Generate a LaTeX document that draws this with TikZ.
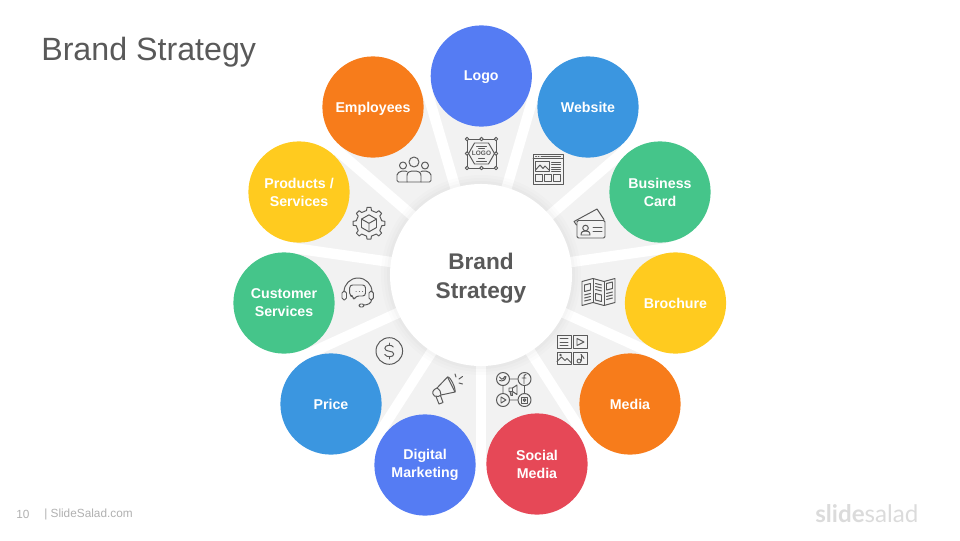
\documentclass[tikz,border=0pt]{standalone}
\usepackage{fontspec}
\setmainfont{Liberation Sans}
\newfontfamily\logofont{Lato}
\definecolor{bluea}{HTML}{557CF3}
\definecolor{blueb}{HTML}{3B96E0}
\definecolor{greena}{HTML}{45C58A}
\definecolor{yellowa}{HTML}{FFCB1F}
\definecolor{orangea}{HTML}{F77C1B}
\definecolor{reda}{HTML}{E64857}
\definecolor{wedgec}{HTML}{F2F2F2}
\definecolor{iconc}{HTML}{5A5A5A}
\definecolor{textc}{HTML}{595959}
\definecolor{footc}{HTML}{B0B0B0}
\tikzset{
  petal/.style={circle, minimum size=2.53cm, inner sep=0pt, text=white, align=center,
    font=\fontsize{10.1}{12.8}\selectfont\bfseries},
  ico/.style={draw=iconc, line width=0.7pt, line join=round, line cap=round},
}
\newcommand{\petal}[5]{
\node [petal, fill=#4] (#3) at (#1, #2) {#5};
}
\newcommand{\nodesc}[1]{\raisebox{0pt}[\height][0pt]{#1}}
\newcommand{\gapline}[1]{
\draw [white, line width=7.4pt] (hub) -- +(#1:208);
}
\newcommand{\handle}[2]{
\draw [ico, fill=white] (#1, #2) circle [radius=1.7];
}
\newcommand{\iconlogo}[2]{
\begin{scope}[shift={(#1, #2)}]
\draw [ico] (-14.5,-14.5) rectangle (14.5,14.5);
\draw [ico] (-13,0) -- (-7,-10.5) -- (7,-10.5) -- (13,0) -- (7,10.5) -- (-7,10.5) -- cycle;
\draw [ico] (-5,-7.5) -- (5,-7.5) (-3,-5) -- (3,-5) (-5,7.5) -- (5,7.5) (-3,5) -- (3,5);
\handle{-14.5}{-14.5} \handle{0}{-14.5} \handle{14.5}{-14.5} \handle{-14.5}{0}
\handle{14.5}{0} \handle{-14.5}{14.5} \handle{0}{14.5} \handle{14.5}{14.5}
\node [text=iconc, inner sep=0pt, font=\fontsize{4.6}{5}\selectfont\bfseries] (logotext) at (0,0) {LOGO};
\end{scope}
}
\newcommand{\iconpeople}[2]{
\begin{scope}[shift={(#1, #2)}]
\draw [ico] (0,-7) circle [radius=5];
\draw [ico] (-11,-3.5) circle [radius=3.5];
\draw [ico] (11,-3.5) circle [radius=3.5];
\draw [ico] (-7,13) -- (-7,6.5) .. controls (-7,3) and (-4,2) .. (0,2) .. controls (4,2) and (7,3) .. (7,6.5) -- (7,13) -- cycle;
\draw [ico] (-7,2.5) .. controls (-9,1.5) and (-16,1.5) .. (-17,6) -- (-17,11.5) .. controls (-17,12.5) and (-16.5,13) .. (-15.5,13) -- (-7,13);
\draw [ico] (7,2.5) .. controls (9,1.5) and (16,1.5) .. (17,6) -- (17,11.5) .. controls (17,12.5) and (16.5,13) .. (15.5,13) -- (7,13);
\end{scope}
}
\newcommand{\iconweb}[2]{
\begin{scope}[shift={(#1, #2)}]
\draw [ico] (-15,-15) rectangle (15,15);
\draw [ico] (-15,-10.5) -- (15,-10.5);
\draw [ico] (-12.5,-13) -- (-11.5,-13) (-10,-13) -- (-9,-13) (-7,-13) -- (12.5,-13);
\draw [ico] (-12.5,-7.5) rectangle (1,2.5);
\draw [ico] (-12.5,1) -- (-8,-4) -- (-5,-0.5) -- (-3,-3) -- (1,1);
\draw [ico] (3.5,-7) -- (12.5,-7) (3.5,-4.5) -- (12.5,-4.5) (3.5,-2) -- (12.5,-2) (3.5,0.5) -- (12.5,0.5) (3.5,2.5) -- (12.5,2.5);
\draw [ico] (-12.5,5.5) rectangle (-6,12.5);
\draw [ico] (-3.5,5.5) rectangle (3,12.5);
\draw [ico] (5.5,5.5) rectangle (12.5,12.5);
\end{scope}
}
\newcommand{\iconcard}[2]{
\begin{scope}[shift={(#1, #2)}]
\draw [ico] (-14.5,-5) -- (-17,-8.5) -- (6,-21) -- (13,-10.5);
\draw [ico, fill=wedgec, rounded corners=1pt] (-14,-9.5) rectangle (14,8);
\draw [ico] (-5.5,-2) circle [radius=2.8];
\draw [ico] (-10,5) .. controls (-10,1.5) and (-8,1) .. (-5.5,1) .. controls (-3,1) and (-1,1.5) .. (-1,5) -- cycle;
\draw [ico] (2,-2.5) -- (11,-2.5) (2,1.5) -- (11,1.5);
\end{scope}
}
\newcommand{\iconbrochure}[2]{
\begin{scope}[shift={(#1, #2)}]
\draw [ico] (-16.5,-10) -- (-5.5,-13) -- (5.5,-10) -- (16.5,-13) -- (16.5,11) -- (5.5,14) -- (-5.5,11) -- (-16.5,14) -- cycle;
\draw [ico] (-5.5,-13) -- (-5.5,11) (5.5,-10) -- (5.5,14);
\draw [ico] (-14,-6.5) -- (-8,-8) -- (-8,-1.5) -- (-14,0) -- cycle;
\draw [ico] (-14,3.5) -- (-8,2) (-14,6.5) -- (-8,5) (-14,9.5) -- (-8,8);
\draw [ico] (-3,-8) -- (3,-6.5) (-3,-5) -- (3,-3.5) (-3,-2) -- (3,-0.5);
\draw [ico] (-3,2) -- (3,3.5) -- (3,10) -- (-3,8.5) -- cycle;
\draw [ico] (8,-8) -- (14,-9.5) -- (14,-3) -- (8,-1.5) -- cycle;
\draw [ico] (8,2) -- (14,0.5) (8,5) -- (14,3.5) (8,8) -- (14,6.5);
\end{scope}
}
\newcommand{\iconmedia}[2]{
\begin{scope}[shift={(#1, #2)}]
\draw [ico] (-15,-15) rectangle (-1,-2);
\draw [ico] (1.5,-15) rectangle (15,-2);
\draw [ico] (-15,1.5) rectangle (-1,14);
\draw [ico] (1.5,1.5) rectangle (15,14);
\draw [ico] (-12,-12) -- (-4,-12) (-12,-8.5) -- (-4,-8.5) (-12,-5) -- (-4,-5);
\draw [ico] (5,-12) -- (12,-8.5) -- (5,-5) -- cycle;
\draw [ico] (-15,11) -- (-10.5,6.5) -- (-7,10) -- (-5,8) -- (-1,12);
\draw [ico] (-11.5,4.5) circle [radius=0.8];
\draw [ico] (9,4) -- (9,10.5);
\draw [ico] (9,4) .. controls (9.5,6) and (12,6) .. (12,8);
\draw [ico] (7,10.5) circle [radius=2];
\end{scope}
}
\newcommand{\iconsocial}[2]{
\begin{scope}[shift={(#1, #2)}]
\draw [ico, rounded corners=3pt] (-10.5,-10.5) rectangle (11,10.5);
\draw [ico, fill=wedgec] (-10.5,-10.5) circle [radius=6.5];
\draw [ico, fill=wedgec] (11,-10.5) circle [radius=6.5];
\draw [ico, fill=wedgec] (-10.5,10.5) circle [radius=6.5];
\draw [ico, fill=wedgec] (11,10.5) circle [radius=6.5];
\draw [ico] (-14,-9) .. controls (-11,-8) and (-8,-9) .. (-7.5,-13) (-14,-12.5) .. controls (-13,-10) and (-11,-10) .. (-10,-11) .. controls (-10,-13) and (-8,-13.5) .. (-7.5,-13);
\draw [ico] (12.5,-15) .. controls (10.5,-15) and (10.5,-14) .. (10.5,-12) -- (10.5,-6) (8.5,-11.5) -- (12.5,-11.5);
\draw [ico] (-12.5,7.5) -- (-7.5,10.5) -- (-12.5,13.5) -- cycle;
\draw [ico] (8,7.5) rectangle (14,13.5);
\draw [ico] (11,10.5) circle [radius=1.4];
\draw [ico] (3.5,-4.5) -- (3.5,5) -- (-1,2) -- (-4.5,2) -- (-4.5,-1.5) -- (-1,-1.5) -- cycle;
\draw [ico] (-1,-1.5) -- (-1,2) (-3.5,2) -- (-2.5,6) -- (-1,6) -- (-1.5,2);
\end{scope}
}
\newcommand{\iconhorn}[2]{
\begin{scope}[shift={(#1, #2)}]
\draw [ico] (-7,-2) -- (3.5,-13) -- (11,2) -- (-3,5);
\draw [ico] (3.5,-13) .. controls (6,-14) and (12,-2) .. (11,2);
\draw [ico] (-7,-2) .. controls (-11,-0.5) and (-13,3) .. (-9.5,6) .. controls (-7,7.5) and (-4,6) .. (-3,5) .. controls (-3,2) and (-4,0) .. (-7,-2);
\draw [ico] (-8,6.5) -- (-5,14) -- (-1,12.5) -- (-3.5,5.5);
\draw [ico] (11,-16) -- (12,-13) (15,-11) -- (18.5,-13.5) (15,-7) -- (18.5,-6);
\end{scope}
}
\newcommand{\icondollar}[2]{
\begin{scope}[shift={(#1, #2)}]
\draw [ico] (0,0) circle [radius=13.3];
\draw [ico] (4,-4) .. controls (3,-6.5) and (-4.5,-6.5) .. (-4.5,-2.7) .. controls (-4.5,1.5) and (4.5,-1) .. (4.5,3) .. controls (4.5,6.5) and (-3,6.5) .. (-4.5,3.5);
\draw [ico] (0,-8) -- (0,-5.5) (0,5.5) -- (0,8);
\end{scope}
}
\newcommand{\iconhead}[2]{
\begin{scope}[shift={(#1, #2)}]
\draw [ico] (-14,1) arc [start angle=180, end angle=360, radius=14];
\draw [ico, rounded corners=1.4pt] (-16,0) rectangle (-11.5,9);
\draw [ico, rounded corners=1.4pt] (11,0) rectangle (15.3,9);
\draw [ico, rounded corners=2pt] (-8.3,-6) -- (7.5,-6) -- (7.5,5) -- (-2,5) -- (-4.5,9.5) -- (-4.5,5) -- (-8.3,5) -- cycle;
\draw [ico] (-2,0) -- (-1.9,0) (1.3,0) -- (1.4,0) (4.5,0) -- (4.6,0);
\draw [ico] (13.5,9) .. controls (13.5,12) and (10,14) .. (6,14);
\draw [ico, rounded corners=1pt] (1,13) rectangle (6,16);
\end{scope}
}
\newcommand{\icongear}[2]{
\begin{scope}[shift={(#1, #2)}]
\draw [ico] (-11:13) \foreach \a in {0,45,...,315} { -- (\a-11:13) -- (\a-7:16) -- (\a+7:16) -- (\a+11:13) } -- cycle;
\draw [ico] (0,-8.5) -- (7.5,-4.2) -- (7.5,4.2) -- (0,8.5) -- (-7.5,4.2) -- (-7.5,-4.2) -- cycle;
\draw [ico] (-7.5,-4.2) -- (0,0) -- (7.5,-4.2) (0,0) -- (0,8.5);
\end{scope}
}

\begin{document}
\begin{tikzpicture}[x=0.025cm, y=-0.025cm]
\useasboundingbox (0,0) rectangle (960,540);
\coordinate (hub) at (481, 275);

% wedges behind the circles
\fill [wedgec] (hub) circle [radius=190];
\gapline{90}
\gapline{57.27}
\gapline{24.55}
\gapline{-8.18}
\gapline{-40.91}
\gapline{-73.64}
\gapline{-106.36}
\gapline{-139.09}
\gapline{-171.82}
\gapline{-204.55}
\gapline{-237.27}
\fill [black, opacity=0.012] (hub) circle [radius=100];
\fill [black, opacity=0.012] (hub) circle [radius=97];
\fill [black, opacity=0.015] (hub) circle [radius=94];
\node [circle, fill=white, minimum size=4.55cm, inner sep=0pt] (centre) at (hub) {};
\node [align=center, text=textc, inner sep=0pt, yshift=-2pt,
  font=\fontsize{16.1}{20.6}\selectfont\bfseries] (centretext) at (hub) {Brand\\Strategy};

\petal{481.3}{76}{logo}{bluea}{\nodesc{Logo}}
\petal{588}{107}{website}{blueb}{Website}
\petal{660}{192}{card}{greena}{Business\\Card}
\petal{675.5}{303}{brochure}{yellowa}{Brochure}
\petal{630}{404}{media}{orangea}{Media}
\petal{537}{464}{social}{reda}{Social\\Media}
\petal{425}{465}{digital}{bluea}{Digital\\Marketing}
\petal{331}{404}{price}{blueb}{Price}
\petal{284}{303}{customer}{greena}{Customer\\Services}
\petal{299}{192}{products}{yellowa}{Products /\\Services}
\petal{373}{107}{employees}{orangea}{\nodesc{Employees}}

\iconlogo{481.5}{153.5}
\iconpeople{414}{169}
\iconweb{548}{169}
\iconcard{591}{230}
\iconbrochure{598.5}{291.5}
\iconmedia{572}{350.5}
\iconsocial{513.5}{389.5}
\iconhorn{444}{390}
\icondollar{389.3}{351}
\iconhead{358}{291}
\icongear{369}{223.3}

\node [anchor=west, inner sep=0pt, text=textc, font=\fontsize{22.9}{28}\selectfont] (title) at (41, 52) {Brand Strategy};
\node [anchor=west, inner sep=0pt, text=footc, font=\fontsize{8.4}{10}\selectfont] (pagenum) at (16, 514) {10};
\node [anchor=west, inner sep=0pt, text=footc, font=\fontsize{8.4}{10}\selectfont] (site) at (44, 514) {| SlideSalad.com};
\node [anchor=west, inner sep=0pt, text=black!14, font=\fontsize{17.2}{20}\selectfont\logofont] (brand) at (815, 514) {\textbf{slide}salad};
\end{tikzpicture}
\end{document}
